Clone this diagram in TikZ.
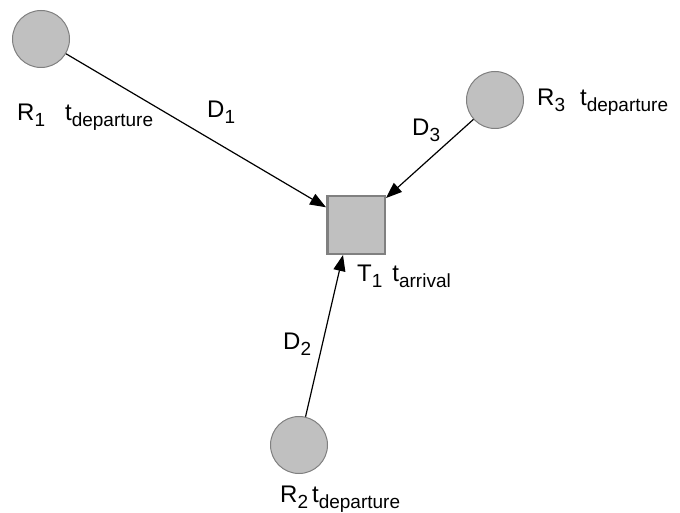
\documentclass[tikz,border=0pt]{standalone}
\usepackage{fontspec}
\setmainfont{Liberation Sans}
\usetikzlibrary{arrows.meta}

\definecolor{nodefill}{RGB}{192,192,192}
\definecolor{nodeline}{RGB}{128,128,128}
\newcommand{\lowsub}[1]{\raisebox{-6pt}{\fontsize{19}{21}\selectfont #1}}

\begin{document}
\begin{tikzpicture}[x=1pt, y=-1pt,
    roundnode/.style={circle, draw=nodeline, fill=nodefill, line width=1pt, minimum size=57pt, inner sep=0pt},
    squarenode/.style={rectangle, draw=nodeline, fill=nodefill, line width=2.5pt, minimum size=57.5pt, inner sep=0pt},
    tagtext/.style={anchor=base west, inner sep=0pt, font=\fontsize{24}{28}\selectfont},
    link/.style={-{Triangle[length=16pt, width=12pt]}, line width=1.2pt}]
        \useasboundingbox (0,0) rectangle (680,513);

        \node[roundnode] (r1) at (41,39) {};
        \node[roundnode] (r3) at (495,100) {};
        \node[roundnode] (r2) at (299,445) {};
        \node[squarenode] (t1) at (356,225) {};

        \node[tagtext] (r1tag) at (17,121) {R\lowsub{1}\hspace{20pt}t\lowsub{departure}};
        \node[tagtext] (r3tag) at (537,106) {R\lowsub{3}\hspace{15pt}t\lowsub{departure}};
        \node[tagtext] (r2tag) at (280,502) {R\lowsub{2}\hspace{4pt}t\lowsub{departure}};
        \node[tagtext] (t1tag) at (357,281) {T\lowsub{1}\hspace{10pt}t\lowsub{arrival}};

        \node[tagtext] (d1) at (207,118) {D\lowsub{1}};
        \node[tagtext] (d3) at (412,136) {D\lowsub{3}};
        \node[tagtext] (d2) at (283,349) {D\lowsub{2}};

        \draw[link] (r1) -- (t1);
        \draw[link] (r3) -- (t1);
        \draw[link] (r2) -- ([xshift=-13pt]t1.south);
    \end{tikzpicture}
\end{document}
